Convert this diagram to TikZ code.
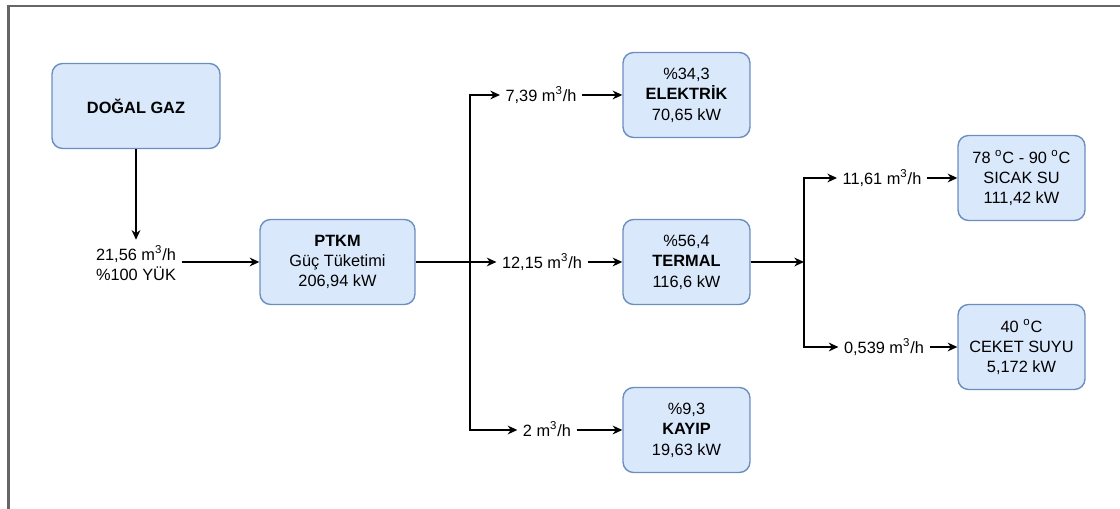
\documentclass[tikz,border=0pt]{standalone}
\usepackage{fontspec}
\setmainfont{Liberation Sans}
\usetikzlibrary{arrows.meta}
\definecolor{kutudolgu}{HTML}{DAE8FC}
\definecolor{kutucizgi}{HTML}{6C8EBF}
\begin{document}
\begin{tikzpicture}[x=0.02cm,y=-0.02cm,
    kutu/.style={draw=kutucizgi,fill=kutudolgu,line width=0.8pt,rounded corners=6pt,
        minimum width=2.54cm,minimum height=1.7cm,align=center,
        font=\fontsize{9.3}{11.6}\selectfont},
    etiket/.style={align=center,inner sep=3pt,font=\fontsize{9.3}{11.6}\selectfont},
    akis/.style={etiket,text height=1.6ex,text depth=0.3ex},
    ok/.style={-{Stealth[length=5.5pt,width=5pt]},line width=0.75pt}]
    \useasboundingbox (0,0) rectangle (1120,509);
    %cerceve
    \draw[gray!80!black,line width=1.4pt](1120,6)--(8.5,6)--(8.5,509);

    %giris
    \node[kutu,minimum width=3.36cm](gaz) at (136,106){\textbf{DOĞAL GAZ}};
    \node[etiket](yuk) at (136,263){21,56 m\textsuperscript{3}/h\\\%100 YÜK};
    \node[kutu,minimum width=3.1cm](ptkm) at (337.5,262){\textbf{PTKM}\\Güç Tüketimi\\206,94 kW};
    \draw[ok](gaz)--(yuk);
    \draw[ok](yuk.east|-ptkm)--(ptkm);

    %birinci dallanma
    \coordinate(dal1) at (470,262);
    \node[akis](debi1) at (541,95){7,39 m\textsuperscript{3}/h};
    \node[akis](debi2) at (542,262){12,15 m\textsuperscript{3}/h};
    \node[akis](debi3) at (547,430){2 m\textsuperscript{3}/h};
    \draw[line width=0.75pt](ptkm)--(dal1);
    \draw[ok](dal1)|-(debi1);
    \draw[ok](dal1)--(debi2);
    \draw[ok](dal1)|-(debi3);

    %cikislar
    \node[kutu](elk) at (686.5,95){\%34,3\\\textbf{ELEKTRİK}\\70,65 kW};
    \node[kutu](termal) at (686.5,262){\%56,4\\\textbf{TERMAL}\\116,6 kW};
    \node[kutu](kayip) at (686.5,430){\%9,3\\\textbf{KAYIP}\\19,63 kW};
    \draw[ok](debi1)--(elk);
    \draw[ok](debi2)--(termal);
    \draw[ok](debi3)--(kayip);

    %ikinci dallanma
    \coordinate(dal2) at (804,262);
    \node[akis](debi4) at (882,178){11,61 m\textsuperscript{3}/h};
    \node[akis](debi5) at (884,347){0,539 m\textsuperscript{3}/h};
    \draw[ok](termal)--(dal2);
    \draw[ok](dal2)|-(debi4);
    \draw[ok](dal2)|-(debi5);

    %sicak su ve ceket suyu
    \node[kutu](sicak) at (1021.5,178){78 \textsuperscript{o}C - 90 \textsuperscript{o}C\\SICAK SU\\111,42 kW};
    \node[kutu](ceket) at (1021.5,347){40 \textsuperscript{o}C\\CEKET SUYU\\5,172 kW};
    \draw[ok](debi4)--(sicak);
    \draw[ok](debi5)--(ceket);
\end{tikzpicture}
\end{document}
